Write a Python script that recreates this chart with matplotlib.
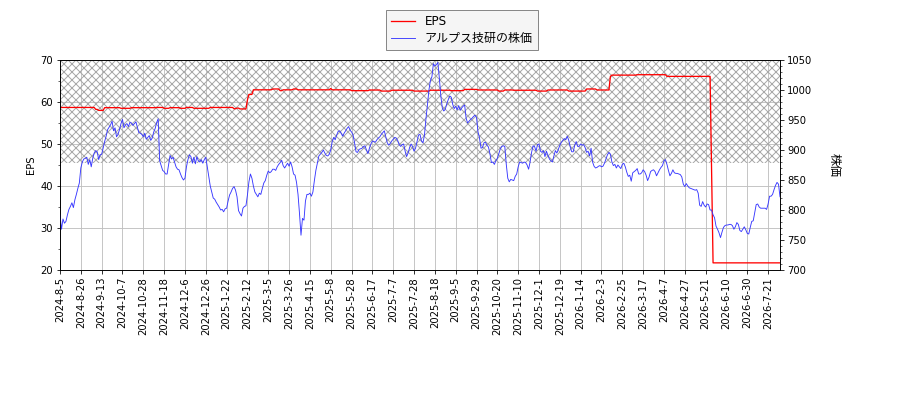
import numpy as np
import matplotlib
matplotlib.use('Agg')
import matplotlib.pyplot as plt
from matplotlib.ticker import AutoMinorLocator

plt.rcParams['font.family'] = ['DejaVu Sans', 'Noto Sans CJK JP']

# 日付ラベル(14営業日ごと)
tick_labels = ['2024-8-5', '2024-8-26', '2024-9-13', '2024-10-7', '2024-10-28', '2024-11-18',
               '2024-12-6', '2024-12-26', '2025-1-22', '2025-2-12', '2025-3-5', '2025-3-26',
               '2025-4-15', '2025-5-8', '2025-5-28', '2025-6-17', '2025-7-7', '2025-7-28',
               '2025-8-18', '2025-9-5', '2025-9-29', '2025-10-20', '2025-11-10', '2025-12-1',
               '2025-12-19', '2026-1-14', '2026-2-3', '2026-2-25', '2026-3-17', '2026-4-7',
               '2026-4-27', '2026-5-21', '2026-6-10', '2026-6-30', '2026-7-21']
tick_step = 14

# 株価(営業日ごと)
price = [
    792, 768, 785, 778, 781, 792, 801, 806, 812, 804, 817, 826, 836, 845,
    870, 880, 885, 886, 888, 876, 884, 872, 886, 895, 899, 897, 884, 892,
    893, 903, 914, 923, 934, 938, 942, 948, 932, 937, 922, 926, 934, 944,
    951, 937, 942, 944, 939, 946, 945, 941, 944, 947, 938, 929, 928, 926,
    922, 928, 918, 921, 924, 916, 920, 930, 936, 946, 952, 882, 874, 866,
    864, 860, 860, 876, 891, 885, 888, 880, 872, 868, 867, 860, 854, 850,
    853, 872, 884, 892, 889, 878, 888, 877, 889, 882, 880, 884, 878, 884,
    888, 872, 857, 840, 830, 820, 818, 813, 809, 805, 800, 801, 797, 802,
    803, 815, 825, 830, 836, 839, 833, 822, 799, 794, 790, 803, 806, 807,
    825, 847, 860, 853, 840, 830, 826, 822, 828, 826, 836, 845, 849, 858,
    865, 862, 864, 868, 868, 866, 872, 876, 879, 883, 874, 870, 874, 878,
    873, 880, 872, 860, 858, 846, 826, 794, 758, 786, 783, 815, 826, 826,
    828, 823, 830, 849, 866, 878, 890, 893, 896, 900, 895, 891, 890, 893,
    900, 914, 921, 917, 925, 931, 932, 928, 923, 928, 932, 936, 939, 933,
    930, 925, 912, 897, 896, 901, 902, 903, 906, 907, 900, 894, 903, 910,
    915, 914, 913, 917, 920, 922, 926, 929, 932, 922, 912, 908, 911, 915,
    918, 921, 920, 916, 909, 906, 909, 910, 898, 889, 895, 904, 910, 906,
    898, 903, 914, 925, 926, 915, 912, 925, 952, 975, 1000, 1016, 1022, 1044,
    1040, 1042, 1046, 1020, 990, 970, 965, 968, 977, 984, 990, 988, 976, 969,
    973, 967, 974, 966, 970, 973, 975, 953, 945, 948, 951, 953, 956, 958,
    954, 930, 920, 903, 904, 912, 913, 908, 905, 894, 879, 880, 876, 882,
    886, 894, 902, 906, 907, 906, 876, 853, 847, 851, 850, 849, 856, 860,
    872, 880, 879, 878, 880, 879, 875, 868, 880, 896, 907, 906, 898, 909,
    910, 898, 896, 899, 889, 898, 891, 885, 882, 880, 890, 899, 895, 901,
    908, 913, 916, 919, 917, 923, 916, 905, 897, 897, 908, 914, 906, 906,
    910, 908, 909, 904, 896, 898, 890, 903, 880, 873, 870, 871, 873, 874,
    872, 873, 878, 885, 892, 896, 893, 880, 874, 876, 870, 875, 872, 869,
    876, 878, 872, 863, 856, 858, 848, 862, 864, 866, 869, 860, 860, 862,
    867, 864, 858, 849, 855, 864, 866, 867, 864, 857, 862, 867, 871, 874,
    882, 884, 876, 866, 857, 861, 867, 862, 861, 861, 860, 859, 855, 843,
    839, 844, 840, 837, 836, 835, 834, 833, 834, 828, 808, 806, 814, 808,
    805, 810, 809, 800, 800, 792, 787, 773, 768, 762, 754, 763, 771, 774,
    775, 775, 776, 776, 774, 768, 772, 779, 776, 766, 764, 768, 772, 767,
    761, 760, 771, 781, 782, 796, 809, 810, 805, 803, 803, 803, 803, 801,
    810, 823, 823, 826, 834, 841, 846, 843, 822,
]

# EPS (変化した営業日, 値)
eps_start = [0, 24, 26, 30, 41, 48, 65, 70, 74, 81, 85, 90, 101, 117, 119, 121,
             126, 127, 130, 143, 148, 150, 157, 160, 182, 183, 196, 208, 216, 223,
             238, 249, 263, 272, 281, 295, 299, 305, 321, 328, 342, 354, 361,
             370, 371, 388, 408, 438, 439]
eps_value = [58.7, 58.25, 58.0, 58.65, 58.5, 58.65, 58.7, 58.5, 58.65, 58.5, 58.7, 58.5,
             58.7, 58.4, 58.55, 58.35,
             60.5, 61.8, 62.9, 63.1, 62.7, 62.9, 63.1, 62.9, 63.2, 62.9, 62.7, 62.85,
             62.6, 62.8, 62.6, 62.8, 62.7, 63.0, 62.86, 62.6, 62.86, 62.8, 62.6, 62.86,
             62.6, 63.1, 62.86,
             66.1, 66.4, 66.5, 66.1, 44.1, 21.7]

hatch_low = 45.4
hatch_high = 70

n = len(price)
lengths = np.diff(eps_start + [n])
eps = np.repeat(eps_value, lengths)
x = np.arange(n)

fig = plt.figure(figsize=(12.5, 400 / 72), dpi=72)
fig.subplots_adjust(left=60 / 900, right=780 / 900, top=1 - 60 / 400, bottom=1 - 270 / 400)
ax1 = fig.add_subplot(111)
ax2 = ax1.twinx()

ax1.axhspan(hatch_low, hatch_high, facecolor='none', edgecolor='#a8a8a8', hatch='xxx', linewidth=0)
l1, = ax1.plot(x, eps, color='red', lw=1.3, label='EPS')
l2, = ax2.plot(x, price, color='#3838ff', lw=0.9, label='アルプス技研の株価')

ax1.set_xlim(0, n - 1)
ax1.set_ylim(20, 70)
ax2.set_ylim(700, 1050)
ax1.set_xticks(np.arange(len(tick_labels)) * tick_step)
ax1.set_xticklabels(tick_labels, rotation=90)
ax1.yaxis.set_minor_locator(AutoMinorLocator(2))
ax2.yaxis.set_minor_locator(AutoMinorLocator(5))
ax1.grid(True, color='#c0c0c0', lw=0.9)
ax1.set_axisbelow(True)

ax1.set_ylabel('EPS')
ax2.set_ylabel('株価', rotation=270, labelpad=28, fontsize=12)

fig.legend(handles=[l1, l2], loc='upper center', bbox_to_anchor=(462 / 900, 0.99), fontsize=12,
           labelspacing=0.35, fancybox=False, facecolor='#f5f5f5', edgecolor='#888888', framealpha=1)

fig.savefig('out.png', dpi=72)
